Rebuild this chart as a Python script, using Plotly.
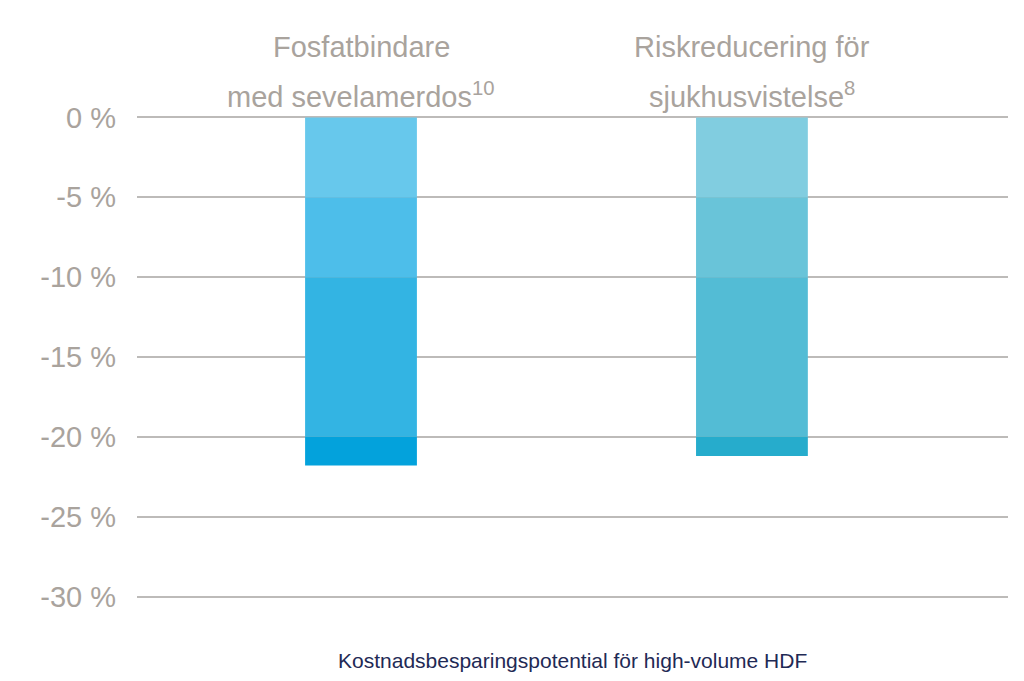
import plotly.graph_objects as go

cat_line1 = ["Fosfatbindare", "Riskreducering för"]
cat_line2 = ["med sevelamerdos<sup>10</sup>", "sjukhusvistelse<sup>8</sup>"]
totals = [-21.8, -21.2]
band_edges = [0, -5, -10, -20]
colors1 = ["#67C8EC", "#4DBEEA", "#33B4E3", "#03A2DC"]
colors2 = ["#81CDE0", "#69C4D9", "#53BCD5", "#26ACCC"]
tickvals = [0, -5, -10, -15, -20, -25, -30]
ticktext = ["0 %", "-5 %", "-10 %", "-15 %", "-20 %", "-25 %", "-30 %"]

fig = go.Figure()
xs = [0, 1]
for i, top in enumerate(band_edges):
    bottoms = []
    for t in totals:
        nxt = band_edges[i + 1] if i + 1 < len(band_edges) else t
        bottoms.append(max(nxt, t))
    fig.add_trace(go.Bar(
        x=xs, y=[b - top for b in bottoms], base=[top, top],
        marker=dict(color=[colors1[i], colors2[i]], line=dict(width=0)),
        width=0.286, showlegend=False, hoverinfo="skip"))

font_t = dict(size=29, color="#A9A39D", family="Liberation Sans")
for x, l1, l2 in zip(xs, cat_line1, cat_line2):
    fig.add_annotation(x=x, y=1, xref="x", yref="paper", yshift=68, text=l1,
                       showarrow=False, yanchor="middle", font=font_t)
    fig.add_annotation(x=x, y=1, xref="x", yref="paper", yshift=20, text=l2,
                       showarrow=False, yanchor="middle", font=font_t)

fig.add_annotation(x=0.5, y=-0.1, xref="paper", yref="paper", showarrow=False,
                   text="Kostnadsbesparingspotential för high-volume HDF", yanchor="top",
                   font=dict(size=21, color="#1F2A55", family="Liberation Sans"))

fig.update_layout(
    width=1024, height=681, barmode="overlay",
    margin=dict(l=129, r=24, t=107, b=90),
    plot_bgcolor="white", paper_bgcolor="white",
    xaxis=dict(range=[-0.573, 1.655], showticklabels=False, showgrid=False, zeroline=False),
    yaxis=dict(range=[-30.15, 0.15], tickvals=tickvals, ticktext=ticktext, showgrid=True,
               gridcolor="#BDBBB9", gridwidth=1.5, zeroline=False, ticks="",
               ticklabelstandoff=20,
               tickfont=dict(size=29, color="#A9A39D", family="Liberation Sans")),
)
fig.write_html("out.html")
